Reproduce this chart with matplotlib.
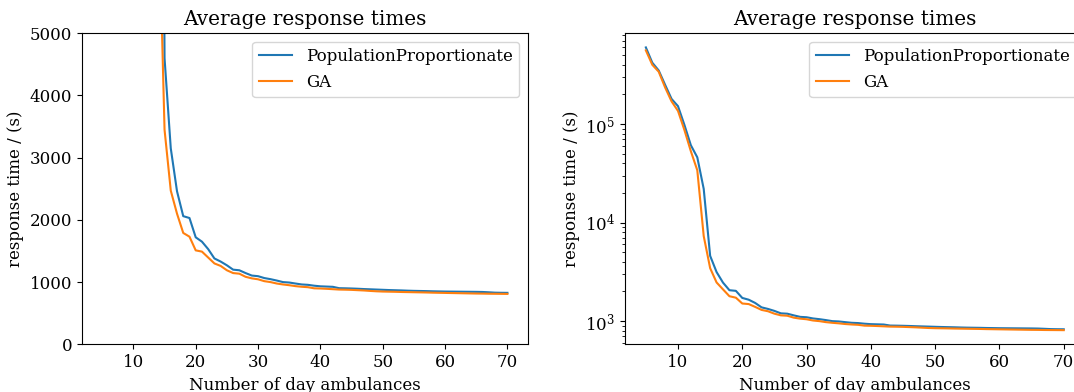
import matplotlib
matplotlib.use('Agg')
import matplotlib.pyplot as plt

plt.rcParams['font.family'] = 'DejaVu Serif'
plt.rcParams['font.size'] = 12

# number of day ambulances
ambulances = list(range(5, 71))

# average response time (s)
pop_prop = [600000, 420000, 350000, 250000, 180000, 152000, 98000, 61000, 46000, 22000,
            4600, 3150, 2460, 2060, 2030, 1720, 1650, 1530, 1380, 1330,
            1270, 1200, 1190, 1145, 1105, 1095, 1065, 1047, 1025, 1000,
            993, 977, 962, 956, 942, 932, 928, 924, 902, 900,
            897, 893, 888, 884, 880, 876, 872, 869, 866, 862,
            859, 857, 855, 852, 850, 848, 847, 846, 845, 844,
            843, 841, 836, 830, 828, 827]
ga = [560000, 400000, 340000, 235000, 170000, 136000, 87000, 53000, 34000, 7300,
      3450, 2470, 2100, 1790, 1730, 1510, 1490, 1395, 1300, 1260,
      1190, 1145, 1135, 1085, 1060, 1045, 1015, 1000, 977, 962,
      950, 935, 925, 918, 900, 897, 892, 886, 880, 878,
      875, 870, 865, 858, 852, 848, 846, 844, 841, 839,
      837, 835, 833, 830, 828, 826, 824, 822, 820, 818,
      816, 815, 813, 812, 811, 810]

fig = plt.figure(figsize=(10.74, 3.92), dpi=100)
ax1 = fig.add_axes([0.0763, 0.1217, 0.415, 0.7934])
ax2 = fig.add_axes([0.5819, 0.1217, 0.428, 0.7934])

for ax in (ax1, ax2):
    ax.plot(ambulances, pop_prop, label='PopulationProportionate')
    ax.plot(ambulances, ga, label='GA')
    ax.set_title('Average response times', fontsize='large')
    ax.set_xlabel('Number of day ambulances')
    ax.set_ylabel('response time / (s)')
    ax.legend(loc='upper right')

ax1.set_ylim(0, 5000)
ax2.set_yscale('log')

fig.savefig('out.png', dpi=100)
